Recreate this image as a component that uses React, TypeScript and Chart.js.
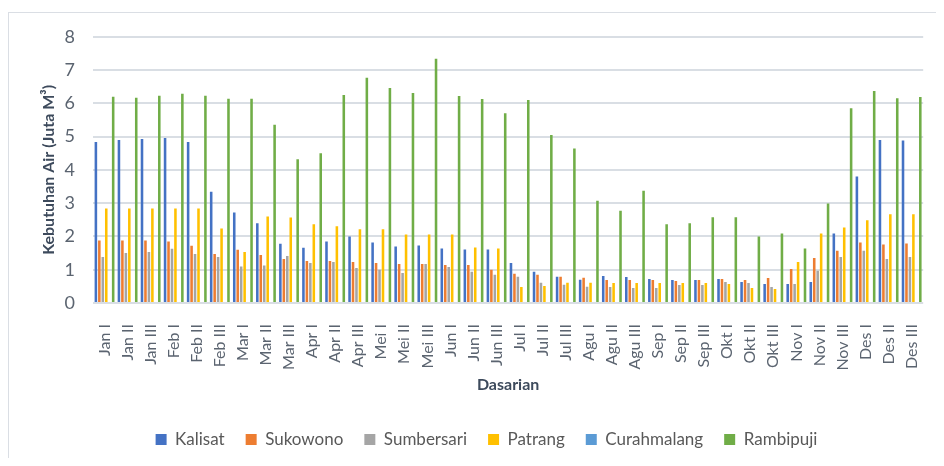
import React, { useEffect, useRef } from "react";
import { Chart, registerables } from "chart.js";

Chart.register(...registerables);

const categories = [
  "Jan I", "Jan II", "Jan III", "Feb I", "Feb II", "Feb III",
  "Mar I", "Mar II", "Mar III", "Apr I", "Apr II", "Apr III",
  "Mei I", "Mei II", "Mei III", "Jun I", "Jun II", "Jun III",
  "Jul I", "Jul II", "Jul III", "Agu I", "Agu II", "Agu III",
  "Sep I", "Sep II", "Sep III", "Okt I", "Okt II", "Okt III",
  "Nov I", "Nov II", "Nov III", "Des I", "Des II", "Des III",
];

const kalisat = [4.84, 4.9, 4.93, 4.96, 4.84, 3.34, 2.72, 2.4, 1.78, 1.66, 1.85, 2.0, 1.82, 1.7, 1.73, 1.64, 1.61, 1.61, 1.2, 0.94, 0.79, 0.7, 0.81, 0.78, 0.72, 0.69, 0.69, 0.72, 0.63, 0.57, 0.57, 0.63, 2.09, 3.8, 4.9, 4.88];
const sukowono = [1.88, 1.88, 1.88, 1.85, 1.72, 1.47, 1.6, 1.44, 1.32, 1.26, 1.26, 1.23, 1.2, 1.17, 1.17, 1.14, 1.14, 1.0, 0.88, 0.85, 0.79, 0.76, 0.69, 0.69, 0.69, 0.66, 0.69, 0.72, 0.69, 0.75, 1.02, 1.35, 1.57, 1.82, 1.76, 1.79];
const sumbersari = [1.38, 1.5, 1.53, 1.63, 1.47, 1.38, 1.1, 1.13, 1.41, 1.2, 1.23, 1.05, 1.0, 0.9, 1.17, 1.08, 0.94, 0.85, 0.79, 0.61, 0.55, 0.49, 0.48, 0.45, 0.45, 0.54, 0.54, 0.63, 0.6, 0.48, 0.57, 0.97, 1.38, 1.57, 1.32, 1.38];
const patrang = [2.84, 2.84, 2.84, 2.84, 2.84, 2.24, 1.53, 2.6, 2.57, 2.37, 2.31, 2.22, 2.22, 2.06, 2.06, 2.06, 1.67, 1.64, 0.48, 0.51, 0.61, 0.61, 0.6, 0.6, 0.6, 0.6, 0.6, 0.57, 0.45, 0.42, 1.23, 2.09, 2.27, 2.49, 2.67, 2.67];
const curahmalang = [0.03, 0.03, 0.03, 0.03, 0.03, 0.03, 0.03, 0.03, 0.03, 0.03, 0.03, 0.03, 0.03, 0.03, 0.03, 0.03, 0.03, 0.03, 0.03, 0.03, 0.03, 0.03, 0.03, 0.03, 0.03, 0.03, 0.03, 0.03, 0.03, 0.03, 0.03, 0.03, 0.03, 0.03, 0.03, 0.03];
const rambipuji = [6.2, 6.17, 6.23, 6.29, 6.23, 6.14, 6.14, 5.36, 4.32, 4.5, 6.25, 6.77, 6.46, 6.31, 7.34, 6.22, 6.13, 5.7, 6.1, 5.05, 4.64, 3.07, 2.77, 3.37, 2.37, 2.4, 2.58, 2.58, 2.0, 2.09, 1.64, 2.99, 5.85, 6.37, 6.15, 6.19];

const seriesNames = ["Kalisat", "Sukowono", "Sumbersari", "Patrang", "Curahmalang", "Rambipuji"];
const seriesColors = ["#4472C4", "#ED7D31", "#A5A5A5", "#FFC000", "#5B9BD5", "#70AD47"];
const yTicks = [0, 1, 2, 3, 4, 5, 6, 7, 8];

const FONT = "Lato, 'Open Sans', sans-serif";

export default function App() {
  const ref = useRef<HTMLCanvasElement | null>(null);

  useEffect(() => {
    if (!ref.current) return;
    const values = [kalisat, sukowono, sumbersari, patrang, curahmalang, rambipuji];
    const chart = new Chart(ref.current, {
      type: "bar",
      data: {
        labels: categories,
        datasets: seriesNames.map((name, i) => ({
          label: name,
          data: values[i],
          backgroundColor: seriesColors[i],
          borderWidth: 0,
          categoryPercentage: 0.9,
          barPercentage: 0.74,
        })),
      },
      options: {
        responsive: false,
        animation: false,
        layout: { padding: { left: 31, right: 10, top: 27, bottom: 0 } },
        plugins: {
          tooltip: { enabled: false },
          legend: {
            position: "bottom",
            labels: {
              boxWidth: 11,
              boxHeight: 11,
              padding: 21,
              color: "#595959",
              font: { family: FONT, size: 17 },
            },
          },
        },
        scales: {
          x: {
            grid: { display: false },
            border: { display: false },
            ticks: {
              color: "#5b6470",
              font: { family: FONT, size: 16 },
              minRotation: 90,
              maxRotation: 90,
              autoSkip: false,
              padding: 13,
            },
            title: {
              display: true,
              text: "Dasarian",
              color: "#3d4a5c",
              font: { family: FONT, size: 16, weight: "bold" },
              padding: { top: 0, bottom: 16 },
            },
            afterFit: (s: any) => {
              s.height = 107;
            },
          },
          y: {
            min: 0,
            max: 8,
            afterBuildTicks: (s: any) => {
              s.ticks = yTicks.map((v) => ({ value: v }));
            },
            grid: { color: "#d9dee4", lineWidth: 2, drawTicks: false },
            border: { display: false },
            ticks: {
              color: "#5b6470",
              font: { family: FONT, size: 18 },
              padding: 18,
            },
            title: {
              display: true,
              text: "Kebutuhan Air (Juta M³)",
              color: "#3d4a5c",
              font: { family: FONT, size: 16, weight: "bold" },
              padding: { top: 0, bottom: 0 },
            },
            afterFit: (s: any) => {
              s.width = 54;
            },
          },
        },
      },
    });
    return () => chart.destroy();
  }, []);

  return (
    <div style={{ position: "relative", width: 936, height: 450 }}>
      <div
        style={{
          position: "absolute",
          left: 0,
          top: 4,
          right: 0,
          bottom: 0,
          borderTop: "1.5px solid #dadee4",
          borderLeft: "1.5px solid #dadee4",
        }}
      />
      <canvas
        ref={ref}
        width={936}
        height={450}
        style={{ position: "absolute", left: 0, top: 0 }}
      />
    </div>
  );
}
